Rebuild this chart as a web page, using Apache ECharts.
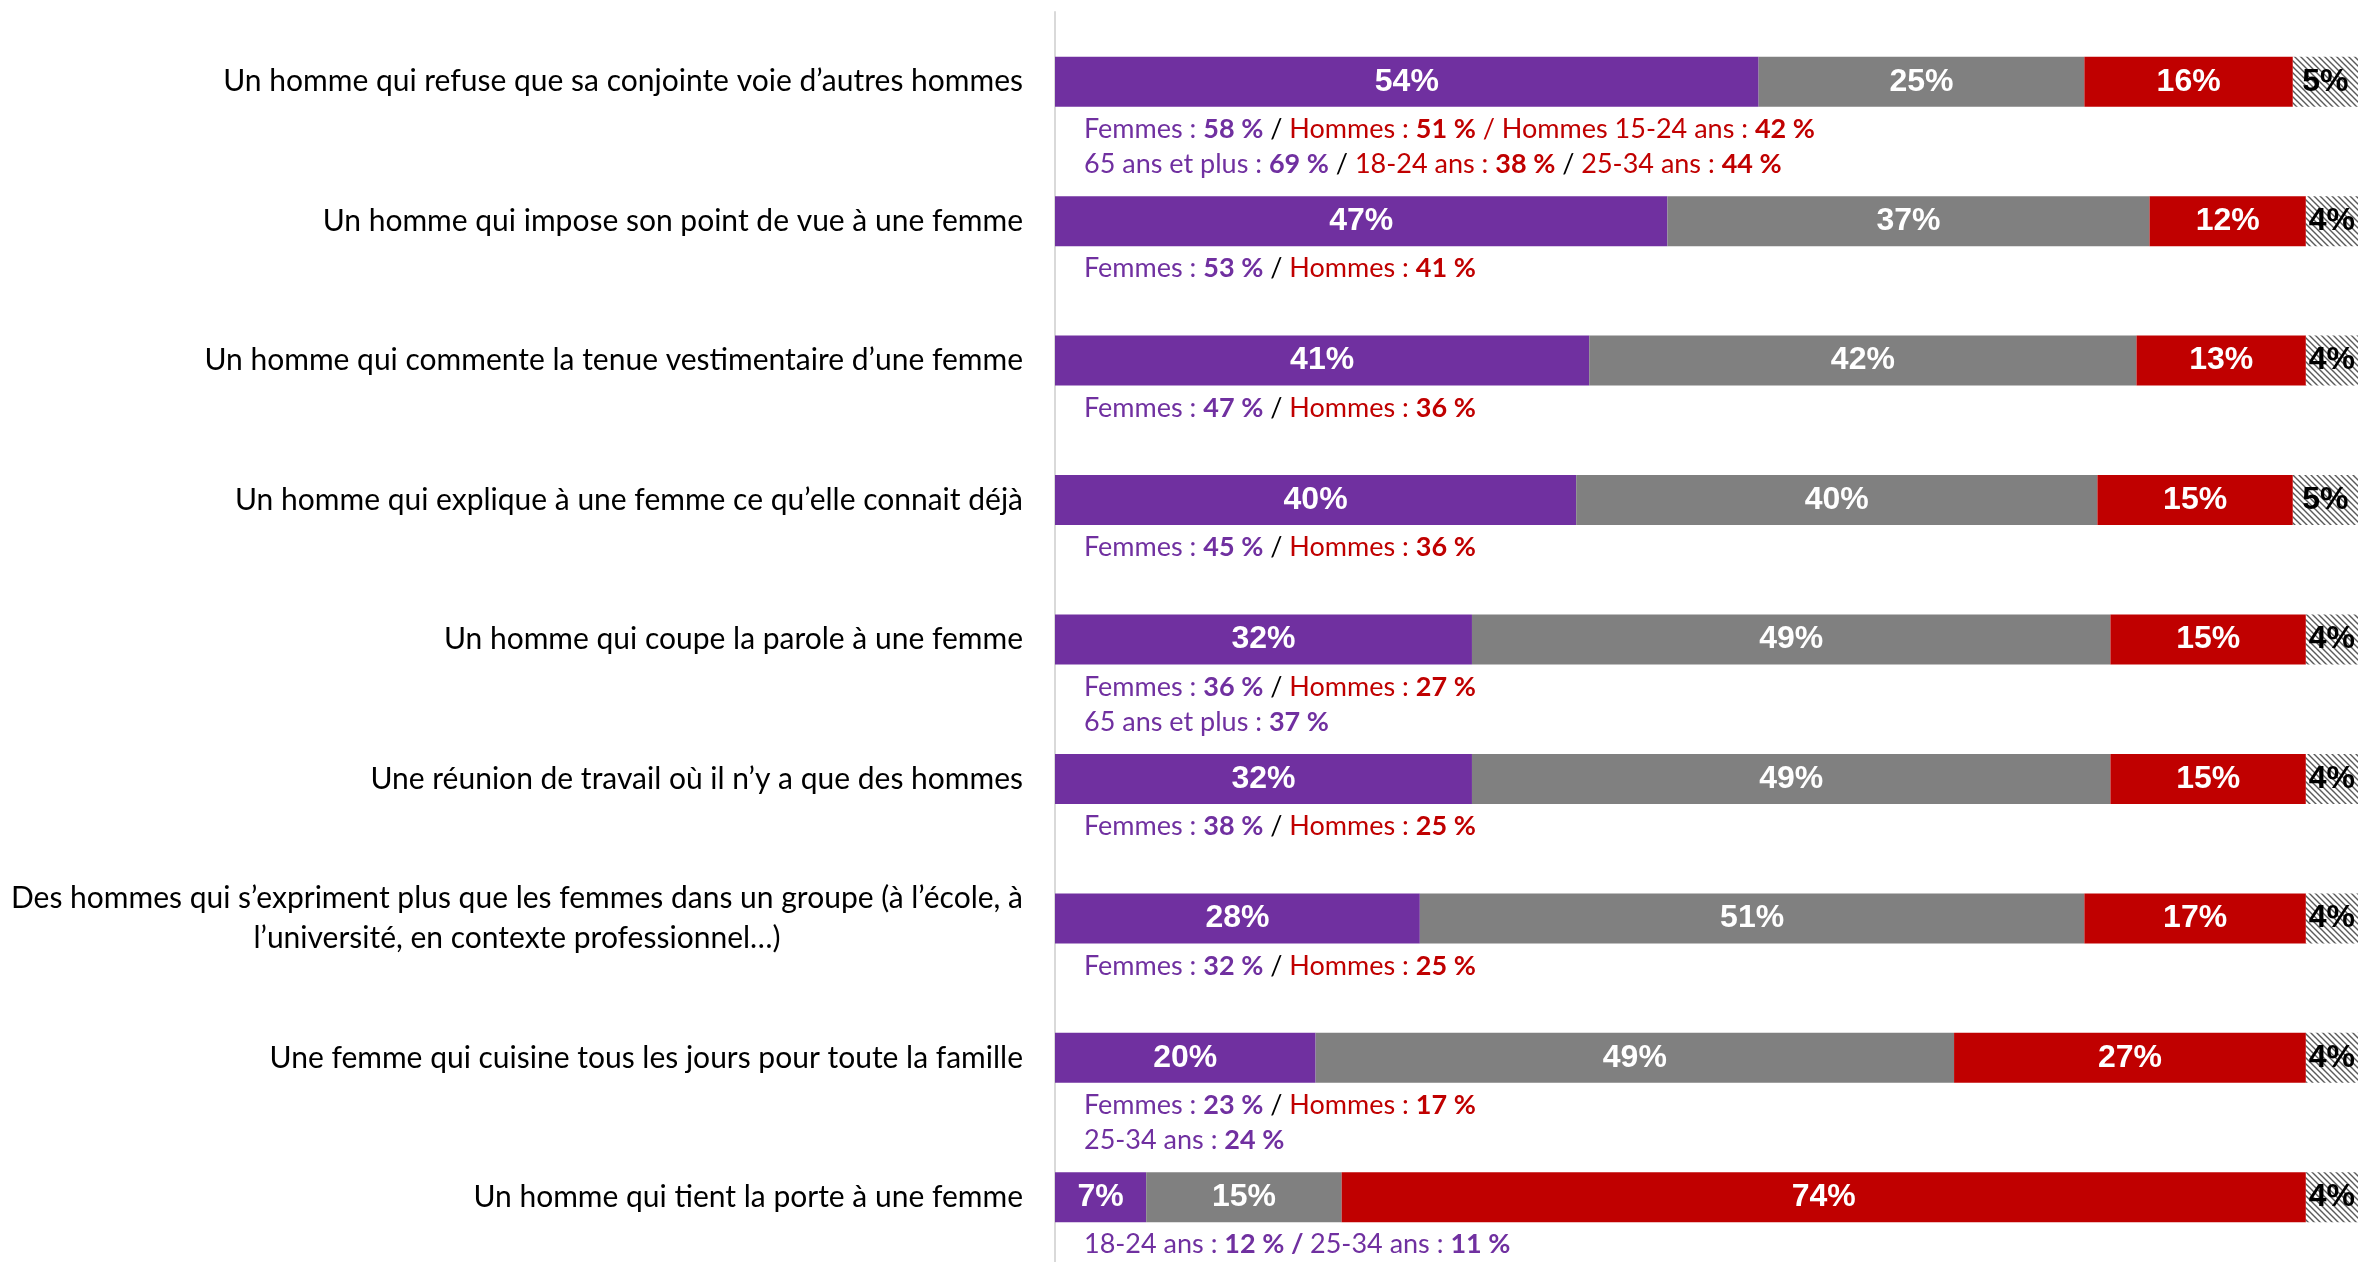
<!DOCTYPE html>
<html>
<head>
<meta charset="utf-8">
<script src="https://cdn.jsdelivr.net/npm/echarts@6/dist/echarts.min.js"></script>
<style>
  html, body { margin: 0; padding: 0; background: #fff; }
  #chart { width: 2358px; height: 1262px; }
</style>
</head>
<body>
<div id="chart"></div>
<script>
// categories (top to bottom)
const categories = [
  'Un homme qui refuse que sa conjointe voie d’autres hommes',
  'Un homme qui impose son point de vue à une femme',
  'Un homme qui commente la tenue vestimentaire d’une femme',
  'Un homme qui explique à une femme ce qu’elle connait déjà',
  'Un homme qui coupe la parole à une femme',
  'Une réunion de travail où il n’y a que des hommes',
  'Des hommes qui s’expriment plus que les femmes dans un groupe (à l’école, à\nl’université, en contexte professionnel…)',
  'Une femme qui cuisine tous les jours pour toute la famille',
  'Un homme qui tient la porte à une femme'
];

const sexiste = [54, 47, 41, 40, 32, 32, 28, 20, 7];
const pasSexiste = [25, 37, 42, 40, 49, 49, 51, 49, 15];
const pasDuTout = [16, 12, 13, 15, 15, 15, 17, 27, 74];
const nsp = [5, 4, 4, 5, 4, 4, 4, 4, 4];

// sub-group notes under each bar (rich text markup)
const notes = [
  '{p|Femmes : }{pb|58 %}{k| / }{r|Hommes : }{rb|51 %}{r| / Hommes 15-24 ans : }{rb|42 %}\n{p|65 ans et plus : }{pb|69 %}{k| / }{r|18-24 ans : }{rb|38 %}{k| / }{r|25-34 ans : }{rb|44 %}',
  '{p|Femmes : }{pb|53 %}{k| / }{r|Hommes : }{rb|41 %}',
  '{p|Femmes : }{pb|47 %}{k| / }{r|Hommes : }{rb|36 %}',
  '{p|Femmes : }{pb|45 %}{k| / }{r|Hommes : }{rb|36 %}',
  '{p|Femmes : }{pb|36 %}{k| / }{r|Hommes : }{rb|27 %}\n{p|65 ans et plus : }{pb|37 %}',
  '{p|Femmes : }{pb|38 %}{k| / }{r|Hommes : }{rb|25 %}',
  '{p|Femmes : }{pb|32 %}{k| / }{r|Hommes : }{rb|25 %}',
  '{p|Femmes : }{pb|23 %}{k| / }{r|Hommes : }{rb|17 %}\n{p|25-34 ans : }{pb|24 %}',
  '{p|18-24 ans : }{pb|12 % / }{p|25-34 ans : }{pb|11 %}'
];

const PURPLE = '#7030A0';
const GREY = '#808080';
const RED = '#C00000';
const TXT_FONT = 'Lato';
const NUM_FONT = 'Liberation Sans';

// hatch pattern for the "NSP" segment
function hatch() {
  const c = document.createElement('canvas');
  c.width = 6; c.height = 6;
  const g = c.getContext('2d');
  g.fillStyle = '#fff';
  g.fillRect(0, 0, 6, 6);
  g.strokeStyle = '#5a5a5a';
  g.lineWidth = 1.4;
  g.beginPath();
  g.moveTo(-1, -1); g.lineTo(7, 7);
  g.moveTo(-4, 2); g.lineTo(4, 10);
  g.moveTo(2, -4); g.lineTo(10, 4);
  g.stroke();
  return c;
}

const chart = echarts.init(document.getElementById('chart'));

function valueLabel(color) {
  return {
    show: true,
    position: 'inside',
    formatter: '{c}%',
    color: color,
    fontFamily: NUM_FONT,
    fontWeight: 'bold',
    fontSize: 32
  };
}

const BAR_W = 50;

const noteRich = {
  p: { color: PURPLE, fontFamily: TXT_FONT, fontSize: 27, lineHeight: 35 },
  pb: { color: PURPLE, fontFamily: TXT_FONT, fontSize: 27, fontWeight: 'bold', lineHeight: 35 },
  r: { color: RED, fontFamily: TXT_FONT, fontSize: 27, lineHeight: 35 },
  rb: { color: RED, fontFamily: TXT_FONT, fontSize: 27, fontWeight: 'bold', lineHeight: 35 },
  k: { color: '#000', fontFamily: TXT_FONT, fontSize: 27, lineHeight: 35 }
};

chart.setOption({
  animation: false,
  backgroundColor: '#fff',
  grid: { left: 1055, right: 0, top: 12, height: 1255, containLabel: false, outerBoundsMode: 'none' },
  xAxis: { type: 'value', min: 0, max: 100, show: false },
  yAxis: {
    type: 'category',
    inverse: true,
    data: categories,
    axisLine: { show: true, lineStyle: { color: '#D9D9D9', width: 2 } },
    axisTick: { show: false },
    splitLine: { show: false },
    axisLabel: {
      margin: 32,
      color: '#000',
      fontFamily: TXT_FONT,
      fontSize: 30,
      lineHeight: 40,
      formatter: function (v) {
        return v.split('\n').map(s => '{c|' + s + '}').join('\n');
      },
      rich: {
        c: { align: 'center', color: '#000', fontFamily: TXT_FONT, fontSize: 30, lineHeight: 40 }
      }
    }
  },
  series: [
    {
      name: 'Sexiste', type: 'bar', stack: 'total', barWidth: BAR_W,
      itemStyle: { color: PURPLE }, label: valueLabel('#fff'), data: sexiste
    },
    {
      name: 'Pas sexiste', type: 'bar', stack: 'total', barWidth: BAR_W,
      itemStyle: { color: GREY }, label: valueLabel('#fff'), data: pasSexiste
    },
    {
      name: 'Pas du tout', type: 'bar', stack: 'total', barWidth: BAR_W,
      itemStyle: { color: RED }, label: valueLabel('#fff'), data: pasDuTout
    },
    {
      name: 'NSP', type: 'bar', stack: 'total', barWidth: BAR_W,
      itemStyle: { color: { image: hatch(), repeat: 'repeat' } },
      label: valueLabel('#000'), data: nsp
    },
    {
      name: 'notes', type: 'bar', barWidth: BAR_W, barGap: '-100%', z: 1, silent: true,
      itemStyle: { color: 'rgba(0,0,0,0)' },
      label: {
        show: true,
        position: [29, 55],
        align: 'left',
        verticalAlign: 'top',
        formatter: function (p) { return notes[p.dataIndex]; },
        rich: noteRich
      },
      data: categories.map(() => 100)
    }
  ]
});
</script>
</body>
</html>
